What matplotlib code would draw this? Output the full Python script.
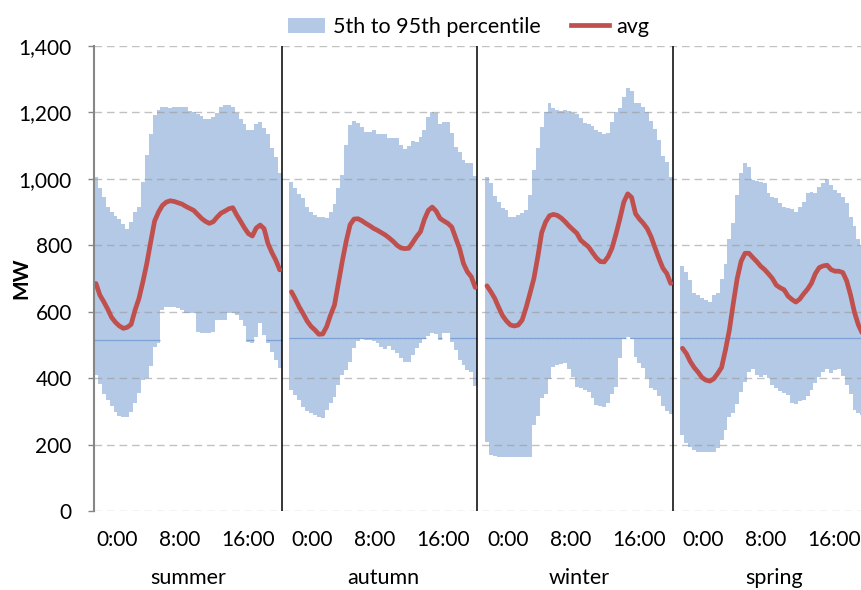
import numpy as np
import matplotlib
matplotlib.use("Agg")
import matplotlib.pyplot as plt
from matplotlib.patches import Patch
from matplotlib.lines import Line2D
from matplotlib.ticker import FuncFormatter

plt.rcParams["font.family"] = ["Lato", "DejaVu Sans"]

# ---- data: half-hourly load profile per season (48 slots from 0:00) ----
seasons = ["summer", "autumn", "winter", "spring"]
time_labels = ["0:00", "8:00", "16:00"]
time_label_slots = [0, 16, 32]

summer_p95 = [1005, 973, 946, 914, 901, 889, 878, 864, 850, 871, 901, 916,
              991, 1072, 1134, 1192, 1208, 1217, 1217, 1212, 1217, 1217, 1217, 1217,
              1204, 1202, 1194, 1189, 1181, 1181, 1187, 1199, 1217, 1221, 1221, 1217,
              1199, 1181, 1166, 1146, 1146, 1166, 1171, 1154, 1134, 1094, 1066, 1019]
summer_p5 = [410, 382, 352, 334, 316, 299, 286, 284, 284, 299, 324, 354,
             394, 400, 437, 495, 507, 605, 614, 614, 614, 612, 605, 597,
             597, 597, 540, 535, 535, 535, 540, 575, 575, 575, 597, 597,
             590, 575, 558, 510, 505, 523, 565, 530, 505, 480, 455, 430]
summer_avg = [685, 650, 630, 608, 583, 568, 557, 550, 553, 562, 605, 640,
              690, 745, 810, 873, 900, 920, 930, 934, 932, 928, 924, 917,
              911, 905, 893, 881, 872, 866, 871, 885, 897, 903, 910, 913,
              891, 872, 852, 835, 828, 852, 861, 850, 805, 778, 755, 726]

autumn_p95 = [992, 972, 955, 942, 916, 901, 891, 886, 886, 881, 901, 924,
              972, 1012, 1102, 1162, 1175, 1167, 1157, 1142, 1142, 1147, 1134, 1134,
              1134, 1124, 1124, 1122, 1102, 1090, 1099, 1115, 1112, 1125, 1147, 1185,
              1202, 1197, 1165, 1172, 1172, 1137, 1097, 1082, 1057, 1047, 1049, 1009]
autumn_p5 = [364, 349, 334, 312, 302, 296, 289, 284, 279, 304, 324, 344,
             379, 409, 425, 450, 490, 513, 517, 515, 515, 513, 505, 495,
             487, 497, 485, 475, 460, 450, 450, 470, 490, 505, 517, 527,
             537, 532, 515, 535, 535, 510, 485, 455, 440, 425, 419, 376]
autumn_avg = [660, 638, 614, 594, 572, 556, 545, 532, 533, 555, 590, 620,
              686, 752, 812, 862, 879, 880, 874, 866, 859, 851, 845, 838,
              831, 822, 812, 800, 792, 790, 791, 808, 826, 841, 878, 905,
              915, 903, 881, 873, 866, 855, 822, 790, 745, 720, 705, 673]

winter_p95 = [1005, 989, 948, 931, 911, 906, 886, 886, 891, 896, 906, 951,
              1027, 1092, 1155, 1202, 1227, 1212, 1207, 1204, 1207, 1204, 1199, 1195,
              1182, 1167, 1165, 1159, 1147, 1142, 1135, 1139, 1172, 1202, 1212, 1247,
              1273, 1266, 1229, 1227, 1217, 1202, 1175, 1149, 1117, 1069, 1052, 1007]
winter_p5 = [209, 169, 167, 164, 164, 164, 164, 164, 164, 164, 164, 164,
             259, 286, 339, 352, 397, 433, 440, 443, 445, 427, 404, 374,
             369, 364, 359, 339, 319, 317, 314, 324, 352, 374, 460, 517,
             525, 517, 465, 447, 430, 400, 369, 364, 346, 316, 302, 292]
winter_avg = [678, 660, 640, 613, 588, 572, 560, 557, 560, 575, 612, 655,
              700, 765, 838, 870, 889, 893, 890, 882, 871, 858, 847, 836,
              815, 805, 795, 778, 762, 751, 750, 766, 792, 834, 880, 930,
              955, 944, 895, 879, 866, 850, 825, 792, 760, 731, 715, 685]

spring_p95 = [738, 721, 696, 655, 650, 640, 635, 630, 650, 655, 700, 743,
              818, 866, 951, 1017, 1047, 1037, 997, 994, 992, 987, 956, 946,
              942, 928, 916, 913, 908, 901, 916, 931, 956, 961, 958, 976,
              989, 999, 982, 967, 956, 946, 928, 886, 858, 818, 801, 780]
spring_p5 = [229, 204, 194, 184, 177, 177, 177, 177, 177, 189, 214, 244,
             282, 294, 322, 359, 389, 419, 429, 410, 404, 410, 400, 379,
             369, 362, 354, 349, 326, 322, 332, 334, 346, 364, 386, 404,
             419, 427, 416, 424, 427, 406, 379, 352, 304, 294, 289, 285]
spring_avg = [490, 474, 450, 432, 418, 402, 394, 391, 398, 414, 432, 485,
              545, 625, 700, 752, 776, 776, 763, 751, 737, 727, 714, 700,
              680, 672, 666, 647, 637, 629, 638, 654, 668, 686, 715, 733,
              738, 740, 727, 722, 722, 718, 693, 650, 598, 560, 535, 505]

# reference level line drawn inside the band
ref_level = [516, 520, 520, 522]

p95 = [summer_p95, autumn_p95, winter_p95, spring_p95]
p5 = [summer_p5, autumn_p5, winter_p5, spring_p5]
avg = [summer_avg, autumn_avg, winter_avg, spring_avg]

# ---- layout / style ----
BAND = "#B4C9E5"
RED = "#C0504D"
REFLINE = "#7A9FD3"
SLOTS = 48
STRIDE = 50          # 48 slots + 2 empty slots between seasons
FS = 15

fig = plt.figure(figsize=(8.62, 5.90), dpi=100)
ax = fig.add_axes([94 / 862, 79 / 590, 782 / 862, 465 / 590])
ax.set_axisbelow(False)

for k, name in enumerate(seasons):
    hi = np.array(p95[k], dtype=float)
    lo = np.array(p5[k], dtype=float)
    av = np.array(avg[k], dtype=float)
    x = k * STRIDE + np.arange(SLOTS) + 0.5

    ax.bar(x, hi - lo, bottom=lo, width=1.0, color=BAND, linewidth=0, zorder=1)

    inside = (lo < ref_level[k]) & (hi > ref_level[k])
    ax.hlines(np.full(inside.sum(), ref_level[k]), x[inside] - 0.5, x[inside] + 0.5,
              color=REFLINE, linewidth=0.9, zorder=1.5)

    ax.plot(x, av, color=RED, linewidth=3.4, solid_capstyle="round",
            solid_joinstyle="round", zorder=4)

    # season separator
    if k < len(seasons) - 1:
        ax.plot([k * STRIDE + SLOTS] * 2, [0, 1400], color="black",
                linewidth=1.1, zorder=3)

    # time-of-day labels and season name
    for lab, s in zip(time_labels, time_label_slots):
        ax.text(k * STRIDE + s + 0.5, -0.062, lab, transform=ax.get_xaxis_transform(),
                ha="left", va="center", fontsize=FS, color="black")
    ax.text(k * STRIDE + SLOTS / 2, -0.157, name, transform=ax.get_xaxis_transform(),
            ha="center", va="baseline", fontsize=FS + 0.5, color="black")

ax.set_xlim(0, 4 * STRIDE)
ax.set_ylim(0, 1400)
ax.set_yticks(np.arange(0, 1401, 200))
ax.yaxis.set_major_formatter(FuncFormatter(lambda v, p: f"{int(v):,}"))
ax.set_xticks([])

ax.yaxis.grid(True, color="#999999", alpha=0.6, linewidth=1.0, dashes=(5.5, 3.5))
for side in ("top", "right", "bottom"):
    ax.spines[side].set_visible(False)
ax.spines["left"].set_color("#868686")
ax.spines["left"].set_linewidth(1.5)
ax.spines["left"].set_zorder(5)
ax.tick_params(axis="y", direction="out", length=4, width=1, color="#868686",
               labelsize=FS, pad=12)
ax.set_ylabel("MW", fontsize=FS, fontweight="bold")
ax.yaxis.set_label_coords(-0.080, 0.5)

handles = [Patch(facecolor=BAND, edgecolor="none"),
           Line2D([], [], color=RED, linewidth=3.4)]
fig.legend(handles, ["5th to 95th percentile", "avg"], loc="center",
           bbox_to_anchor=(468.5 / 862, 1 - 27 / 590), ncol=2, frameon=False,
           fontsize=FS + 0.5, handlelength=1.72, handleheight=0.75,
           handletextpad=0.37, columnspacing=1.45, borderaxespad=0.0,
           borderpad=0.0)

fig.savefig("out.png", dpi=100)
